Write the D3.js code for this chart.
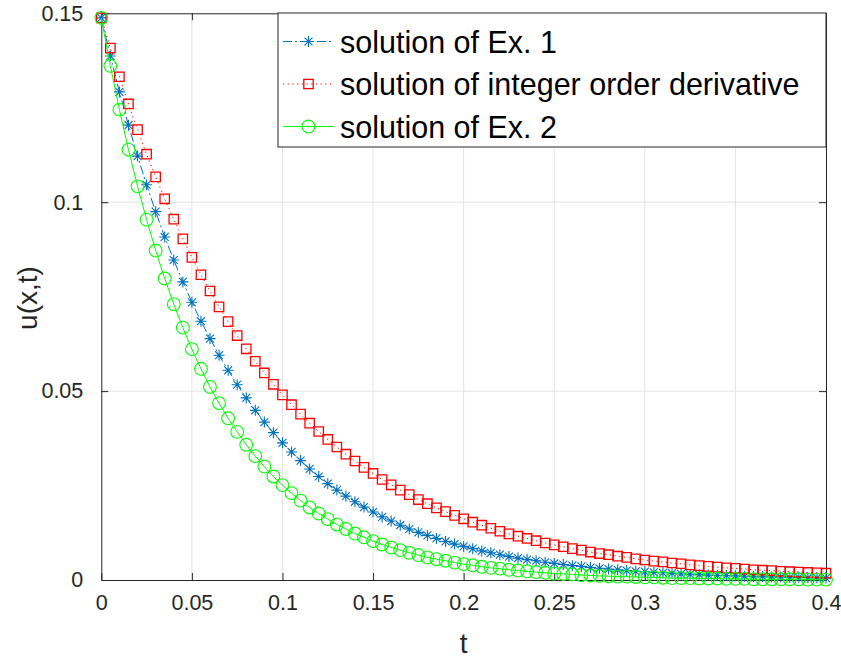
<!DOCTYPE html>
<html>
<head>
<meta charset="utf-8">
<script src="https://cdn.jsdelivr.net/npm/d3@7/dist/d3.min.js"></script>
<style>
  body { margin: 0; background: #fff; }
  svg { display: block; }
  text { font-family: "Liberation Sans", Arial, Helvetica, sans-serif; }
</style>
</head>
<body>
<div id="chart"></div>
<script>
// time points (markers every 0.005)
const tValues = [0, 0.005, 0.01, 0.015, 0.02, 0.025, 0.03, 0.035, 0.04, 0.045,
  0.05, 0.055, 0.06, 0.065, 0.07, 0.075, 0.08, 0.085, 0.09, 0.095,
  0.1, 0.105, 0.11, 0.115, 0.12, 0.125, 0.13, 0.135, 0.14, 0.145,
  0.15, 0.155, 0.16, 0.165, 0.17, 0.175, 0.18, 0.185, 0.19, 0.195,
  0.2, 0.205, 0.21, 0.215, 0.22, 0.225, 0.23, 0.235, 0.24, 0.245,
  0.25, 0.255, 0.26, 0.265, 0.27, 0.275, 0.28, 0.285, 0.29, 0.295,
  0.3, 0.305, 0.31, 0.315, 0.32, 0.325, 0.33, 0.335, 0.34, 0.345,
  0.35, 0.355, 0.36, 0.365, 0.37, 0.375, 0.38, 0.385, 0.39, 0.395, 0.4];

// solution of Ex. 1 (blue stars)
const ex1Values = [0.1488, 0.1387, 0.1292, 0.1204, 0.1122, 0.1046, 0.0975, 0.0908, 0.0847, 0.0789,
  0.0735, 0.0685, 0.0639, 0.0595, 0.0555, 0.0517, 0.0482, 0.0449, 0.0418, 0.0390,
  0.0363, 0.0339, 0.0316, 0.0294, 0.0274, 0.0255, 0.0238, 0.0222, 0.0207, 0.0193,
  0.0180, 0.0167, 0.0156, 0.0145, 0.0135, 0.0126, 0.0118, 0.0110, 0.0102, 0.0095,
  0.0089, 0.0083, 0.0077, 0.0072, 0.0067, 0.0062, 0.0058, 0.0054, 0.0051, 0.0047,
  0.0044, 0.0041, 0.0038, 0.0036, 0.0033, 0.0031, 0.0029, 0.0027, 0.0025, 0.0023,
  0.0022, 0.0020, 0.0019, 0.0018, 0.0016, 0.0015, 0.0014, 0.0013, 0.0012, 0.0012,
  0.0011, 0.0010, 0.0009, 0.0009, 0.0008, 0.0008, 0.0007, 0.0007, 0.0006, 0.0006, 0.0005];

// solution of integer order derivative (red squares)
const integerOrderValues = [0.1488, 0.1408, 0.1332, 0.1260, 0.1192, 0.1127, 0.1067, 0.1009, 0.0955, 0.0903,
  0.0854, 0.0808, 0.0765, 0.0723, 0.0684, 0.0647, 0.0612, 0.0579, 0.0548, 0.0518,
  0.0490, 0.0464, 0.0439, 0.0415, 0.0393, 0.0372, 0.0352, 0.0333, 0.0315, 0.0298,
  0.0282, 0.0266, 0.0252, 0.0238, 0.0226, 0.0213, 0.0202, 0.0191, 0.0181, 0.0171,
  0.0162, 0.0153, 0.0145, 0.0137, 0.0129, 0.0122, 0.0116, 0.0110, 0.0104, 0.0098,
  0.0093, 0.0088, 0.0083, 0.0079, 0.0074, 0.0070, 0.0067, 0.0063, 0.0060, 0.0056,
  0.0053, 0.0050, 0.0048, 0.0045, 0.0043, 0.0040, 0.0038, 0.0036, 0.0034, 0.0032,
  0.0031, 0.0029, 0.0027, 0.0026, 0.0025, 0.0023, 0.0022, 0.0021, 0.0020, 0.0019, 0.0018];

// solution of Ex. 2 (green circles)
const ex2Values = [0.1488, 0.1361, 0.1245, 0.1139, 0.1042, 0.0954, 0.0872, 0.0798, 0.0730, 0.0668,
  0.0611, 0.0559, 0.0511, 0.0468, 0.0428, 0.0392, 0.0358, 0.0328, 0.0300, 0.0274,
  0.0251, 0.0230, 0.0210, 0.0192, 0.0176, 0.0161, 0.0147, 0.0135, 0.0123, 0.0113,
  0.0103, 0.0094, 0.0086, 0.0079, 0.0072, 0.0066, 0.0060, 0.0055, 0.0051, 0.0046,
  0.0042, 0.0039, 0.0035, 0.0032, 0.0030, 0.0027, 0.0025, 0.0023, 0.0021, 0.0019,
  0.0017, 0.0016, 0.0015, 0.0013, 0.0012, 0.0011, 0.0010, 0.0009, 0.0009, 0.0008,
  0.0007, 0.0007, 0.0006, 0.0005, 0.0005, 0.0005, 0.0004, 0.0004, 0.0004, 0.0003,
  0.0003, 0.0003, 0.0002, 0.0002, 0.0002, 0.0002, 0.0002, 0.0002, 0.0001, 0.0001, 0.0001];

const seriesNames = ["solution of Ex. 1", "solution of integer order derivative", "solution of Ex. 2"];

const xTicks = [0, 0.05, 0.1, 0.15, 0.2, 0.25, 0.3, 0.35, 0.4];
const xTickLabels = ["0", "0.05", "0.1", "0.15", "0.2", "0.25", "0.3", "0.35", "0.4"];
const yTicks = [0, 0.05, 0.1, 0.15];
const yTickLabels = ["0", "0.05", "0.1", "0.15"];

const width = 841;
const height = 659;
const margin = {top: 13.3, right: 15, bottom: 79, left: 101.3};
const axisColor = "#262626";
const gridColor = "#e3e3e3";

const svg = d3.select("#chart")
    .append("svg")
    .attr("width", width)
    .attr("height", height);

const x = d3.scaleLinear().domain([0, 0.4]).range([margin.left, width - margin.right]);
const y = d3.scaleLinear().domain([0, 0.15]).range([height - margin.bottom, margin.top]);

// grid
svg.append("g").selectAll("line")
    .data(xTicks.slice(1, -1))
    .enter().append("line")
    .attr("x1", d => x(d)).attr("x2", d => x(d))
    .attr("y1", y(0)).attr("y2", y(0.15))
    .attr("stroke", gridColor);
svg.append("g").selectAll("line")
    .data(yTicks.slice(1, -1))
    .enter().append("line")
    .attr("x1", x(0)).attr("x2", x(0.4))
    .attr("y1", d => y(d)).attr("y2", d => y(d))
    .attr("stroke", gridColor);

// axes (ticks inside, box on)
const xAxis = d3.axisBottom(x).tickValues(xTicks).tickSizeInner(-7).tickSizeOuter(0).tickPadding(15)
    .tickFormat((d, i) => xTickLabels[i]);
const xTop = d3.axisTop(x).tickValues(xTicks).tickSizeInner(-7).tickSizeOuter(0).tickFormat("");
const yAxis = d3.axisLeft(y).tickValues(yTicks).tickSizeInner(-7).tickSizeOuter(0).tickPadding(18)
    .tickFormat((d, i) => yTickLabels[i]);
const yRight = d3.axisRight(y).tickValues(yTicks).tickSizeInner(-7).tickSizeOuter(0).tickFormat("");

function styleAxis(g) {
    g.select(".domain").attr("stroke", axisColor).attr("stroke-width", 1);
    g.selectAll(".tick line").attr("stroke", axisColor);
    g.selectAll(".tick text").attr("fill", axisColor)
        .style("font-size", "21.5px")
        .style("font-family", "'Liberation Sans', Arial, sans-serif");
}

svg.append("g").attr("transform", `translate(0,${y(0)})`).call(xAxis).call(styleAxis);
svg.append("g").attr("transform", `translate(0,${y(0.15)})`).call(xTop).call(styleAxis);
svg.append("g").attr("transform", `translate(${x(0)},0)`).call(yAxis).call(styleAxis);
svg.append("g").attr("transform", `translate(${x(0.4)},0)`).call(yRight).call(styleAxis);

// marker shapes
function starPath(s) {
    const d = s * 0.72;
    return `M${-s},0L${s},0M0,${-s}L0,${s}M${-d},${-d}L${d},${d}M${-d},${d}L${d},${-d}`;
}
function squarePath(s) {
    return `M${-s},${-s}H${s}V${s}H${-s}Z`;
}
function circlePath(r) {
    return `M${r},0A${r},${r} 0 1,1 ${-r},0A${r},${r} 0 1,1 ${r},0Z`;
}

const series = [
    {name: seriesNames[0], values: ex1Values, color: "#0072BD", dash: "9,3,2,3", marker: starPath(5.5), markerWidth: 1.1},
    {name: seriesNames[1], values: integerOrderValues, color: "#FF0000", dash: "1.2,3.5", marker: squarePath(4.7), markerWidth: 1.3},
    {name: seriesNames[2], values: ex2Values, color: "#00FF00", dash: null, marker: circlePath(6.4), markerWidth: 1.1}
];

const line = d3.line()
    .x(d => x(d[0]))
    .y(d => y(d[1]));

series.forEach(s => {
    const pts = tValues.map((t, i) => [t, s.values[i]]);
    svg.append("path")
        .datum(pts)
        .attr("d", line)
        .attr("fill", "none")
        .attr("stroke", s.color)
        .attr("stroke-width", 1)
        .attr("stroke-dasharray", s.dash);
    svg.append("g").selectAll("path")
        .data(pts)
        .enter().append("path")
        .attr("transform", d => `translate(${x(d[0])},${y(d[1])})`)
        .attr("d", s.marker)
        .attr("fill", "none")
        .attr("stroke", s.color)
        .attr("stroke-width", s.markerWidth);
});

// legend
const legend = svg.append("g");
legend.append("rect")
    .attr("x", 278).attr("y", 13)
    .attr("width", x(0.4) - 278).attr("height", 134)
    .attr("fill", "#fff")
    .attr("stroke", axisColor)
    .attr("stroke-width", 1);

series.forEach((s, i) => {
    const ly = 41.5 + i * 42.5;
    legend.append("line")
        .attr("x1", 283).attr("x2", 334)
        .attr("y1", ly).attr("y2", ly)
        .attr("stroke", s.color)
        .attr("stroke-width", 1)
        .attr("stroke-dasharray", s.dash);
    legend.append("path")
        .attr("transform", `translate(308.5,${ly})`)
        .attr("d", s.marker)
        .attr("fill", "none")
        .attr("stroke", s.color)
        .attr("stroke-width", s.markerWidth);
    legend.append("text")
        .attr("x", 340)
        .attr("y", ly + 11)
        .attr("fill", "#000")
        .style("font-size", "30.5px")
        .text(s.name);
});

// axis labels
svg.append("text")
    .attr("x", x(0.2))
    .attr("y", 653)
    .attr("text-anchor", "middle")
    .attr("fill", axisColor)
    .style("font-size", "28px")
    .text("t");

svg.append("text")
    .attr("transform", "translate(37,298) rotate(-90)")
    .attr("text-anchor", "middle")
    .attr("fill", axisColor)
    .style("font-size", "28px")
    .text("u(x,t)");
</script>
</body>
</html>
